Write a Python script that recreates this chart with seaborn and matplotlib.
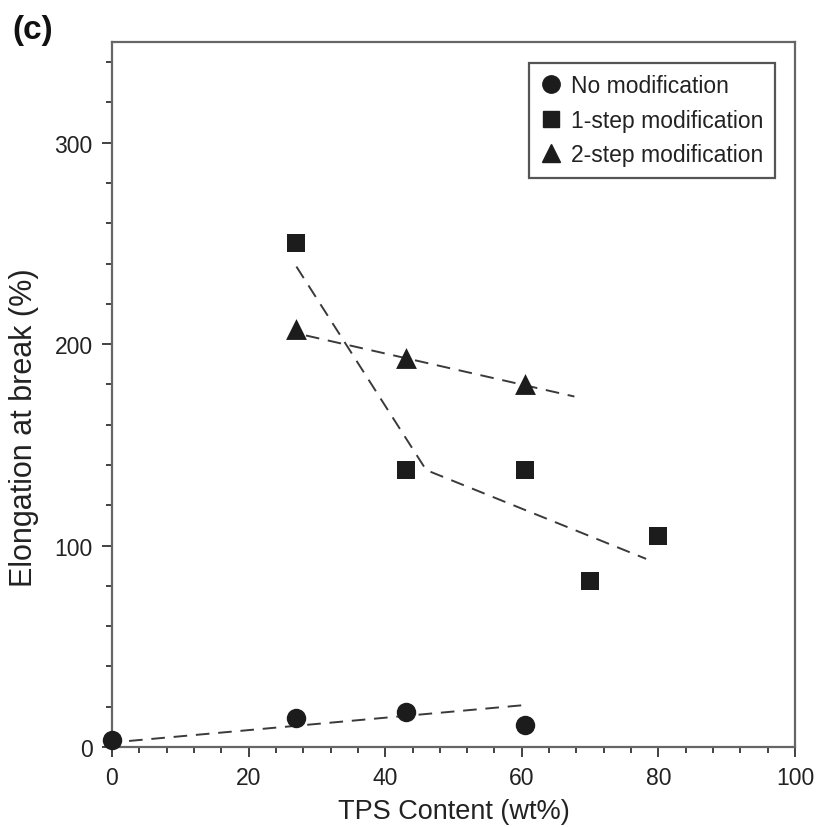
import matplotlib
matplotlib.use("Agg")
import matplotlib.pyplot as plt
from matplotlib.ticker import MultipleLocator
from matplotlib.lines import Line2D
import seaborn as sns
import pandas as pd

# ---- data ----
x_none = [0, 27, 43, 60.5]
y_none = [3.5, 14.5, 17.5, 11]
x_one = [27, 43, 60.5, 70, 80]
y_one = [250, 137.5, 137.5, 82.5, 105]
x_two = [27, 43, 60.5]
y_two = [207.5, 193, 180]

# trend lines (dashed)
trend_none_x = [2.5, 61]
trend_none_y = [3, 21]
trend_one_x = [27, 46, 78.2]
trend_one_y = [238.5, 137.5, 93.4]
trend_two_x = [28.4, 67.7]
trend_two_y = [204.3, 174]

labels = ["No modification", "1-step modification", "2-step modification"]
x_ticks = [0, 20, 40, 60, 80, 100]
y_ticks = [0, 100, 200, 300]

sns.set_style("ticks")
plt.rcParams["font.family"] = ["Liberation Sans", "DejaVu Sans"]

fig = plt.figure(figsize=(8.18, 8.28), dpi=100)
ax = fig.add_axes([112/818, 1-748/828, (795-112)/818, (748-43)/828])

dash_kw = dict(color="#3a3a3a", linewidth=1.4, dashes=(7, 4.5))
sns.lineplot(x=trend_none_x, y=trend_none_y, ax=ax, sort=False, **dash_kw)
sns.lineplot(x=trend_one_x, y=trend_one_y, ax=ax, sort=False, **dash_kw)
sns.lineplot(x=trend_two_x, y=trend_two_y, ax=ax, sort=False, **dash_kw)

mk = "#1c1c1c"
sns.scatterplot(x=x_none, y=y_none, ax=ax, marker="o", s=14**2, color=mk,
                edgecolor=mk, linewidth=0, zorder=5, clip_on=False)
sns.scatterplot(x=x_one, y=y_one, ax=ax, marker="s", s=13.5**2, color=mk,
                edgecolor=mk, linewidth=0, zorder=5)
sns.scatterplot(x=x_two, y=y_two, ax=ax, marker="^", s=15**2, color=mk,
                edgecolor=mk, linewidth=0, zorder=5)

ax.set_xlim(0, 100)
ax.set_ylim(0, 350)
ax.set_xticks(x_ticks)
ax.set_yticks(y_ticks)
ax.xaxis.set_minor_locator(MultipleLocator(4))
ax.yaxis.set_minor_locator(MultipleLocator(20))
ax.tick_params(axis="both", which="major", length=7, width=1.3, colors="#333333",
               labelsize=16.5, labelcolor="#222222", pad=7, direction="out")
ax.tick_params(axis="both", which="minor", length=4.5, width=1.3, colors="#333333",
               direction="out")
for sp in ax.spines.values():
    sp.set_visible(True)
    sp.set_color("#666666")
    sp.set_linewidth(1.6)

ax.set_xlabel("TPS Content (wt%)", fontsize=19.5, color="#222222", labelpad=6)
ax.set_ylabel("Elongation at break (%)", fontsize=22, color="#222222")
ax.yaxis.set_label_coords((39 - 112) / 683, (748 - 428) / 705)

handles = [
    Line2D([], [], linestyle="none", marker="o", markersize=12.5, color=mk),
    Line2D([], [], linestyle="none", marker="s", markersize=12, color=mk),
    Line2D([], [], linestyle="none", marker="^", markersize=13, color=mk),
]
leg = ax.legend(handles, labels, loc="upper right",
                bbox_to_anchor=((775-112)/683, (748-64)/705),
                borderaxespad=0, fontsize=16.5, frameon=True, fancybox=False,
                handlelength=0.9, handletextpad=0.45, labelspacing=0.5,
                borderpad=0.5, edgecolor="#555555", framealpha=1)
leg.get_frame().set_linewidth(1.6)
for t in leg.get_texts():
    t.set_color("#222222")

fig.text(12/818, 1-30/828, "(c)", fontsize=24, fontweight="bold",
         va="center", ha="left", color="#111111")

fig.savefig("out.png", dpi=100)
